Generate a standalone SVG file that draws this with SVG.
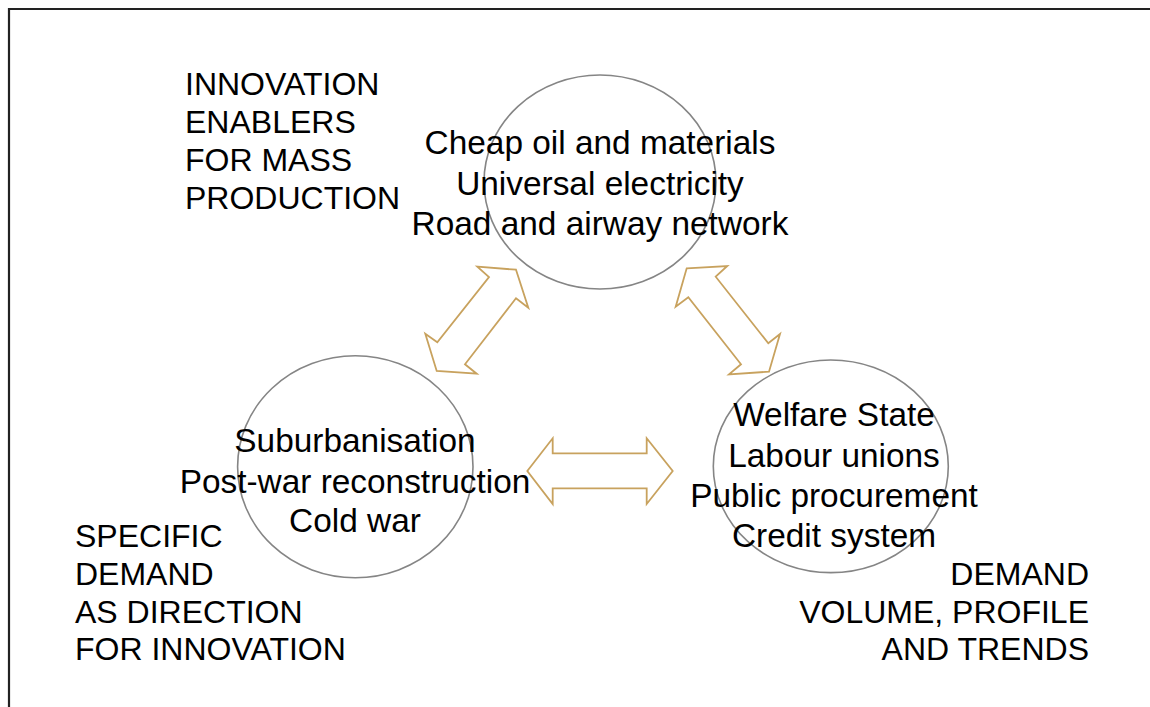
<svg xmlns="http://www.w3.org/2000/svg" width="1150" height="707" viewBox="0 0 1150 707">
  <style>
    .frame { fill: none; stroke: #222; stroke-width: 2.2; }
    .ring { fill: none; stroke: #858585; stroke-width: 1.6; }
    .arrow { fill: #fff; stroke: #C8A25E; stroke-width: 1.8; stroke-linejoin: miter; }
    .body { font-family: "Liberation Sans", Arial, sans-serif; font-size: 33.4px; fill: #000; text-anchor: middle; }
    .tag { font-family: "Liberation Sans", Arial, sans-serif; font-size: 32px; fill: #000; }
  </style>
  <rect width="1150" height="707" fill="#fff"/>
  <path class="frame" d="M9,707 V9 H1150"/>

  <!-- double-headed arrows between the three circles -->
  <g id="connectors">
    <polygon class="arrow" points="516,269.7 528.3,307.7 516,298.3 465,364.3 476.7,373.7 436.7,371 425.3,333.7 437.3,342.3 489,277 477.3,266.7"/>
    <polygon class="arrow" points="686.7,268.3 727.3,266 715.7,276.7 768.3,343.3 780,334 769,371.7 729,374.3 741,364.3 688.3,297.3 675.7,306.7"/>
    <polygon class="arrow" points="527.3,471 552.7,438.3 552.7,453.3 646.7,453.3 646.7,438.3 672.7,471 646.7,504 646.7,488.3 552.7,488.3 552.7,504"/>
  </g>

  <g id="enablers">
    <ellipse class="ring" cx="600" cy="182" rx="116" ry="107"/>
    <text class="body" x="600" y="154">Cheap oil and materials</text>
    <text class="body" x="600" y="194.5">Universal electricity</text>
    <text class="body" x="600" y="235">Road and airway network</text>
  </g>

  <g id="specific-demand">
    <ellipse class="ring" cx="355.3" cy="466.7" rx="117.7" ry="111"/>
    <text class="body" x="355" y="452">Suburbanisation</text>
    <text class="body" x="355" y="492.5">Post-war reconstruction</text>
    <text class="body" x="355" y="532">Cold war</text>
  </g>

  <g id="demand-volume">
    <ellipse class="ring" cx="830.8" cy="466.3" rx="117.5" ry="106.3"/>
    <text class="body" x="834" y="426">Welfare State</text>
    <text class="body" x="834" y="466.5">Labour unions</text>
    <text class="body" x="834" y="506.7">Public procurement</text>
    <text class="body" x="834" y="546.7">Credit system</text>
  </g>

  <g id="label-enablers">
    <text class="tag" x="185" y="95">INNOVATION</text>
    <text class="tag" x="185" y="133">ENABLERS</text>
    <text class="tag" x="185" y="171">FOR MASS</text>
    <text class="tag" x="185" y="209">PRODUCTION</text>
  </g>

  <g id="label-direction">
    <text class="tag" x="75" y="547">SPECIFIC</text>
    <text class="tag" x="75" y="585">DEMAND</text>
    <text class="tag" x="75" y="622.5">AS DIRECTION</text>
    <text class="tag" x="75" y="660">FOR INNOVATION</text>
  </g>

  <g id="label-volume" text-anchor="end">
    <text class="tag" x="1089" y="585">DEMAND</text>
    <text class="tag" x="1089" y="622.5">VOLUME, PROFILE</text>
    <text class="tag" x="1089" y="660">AND TRENDS</text>
  </g>
</svg>
